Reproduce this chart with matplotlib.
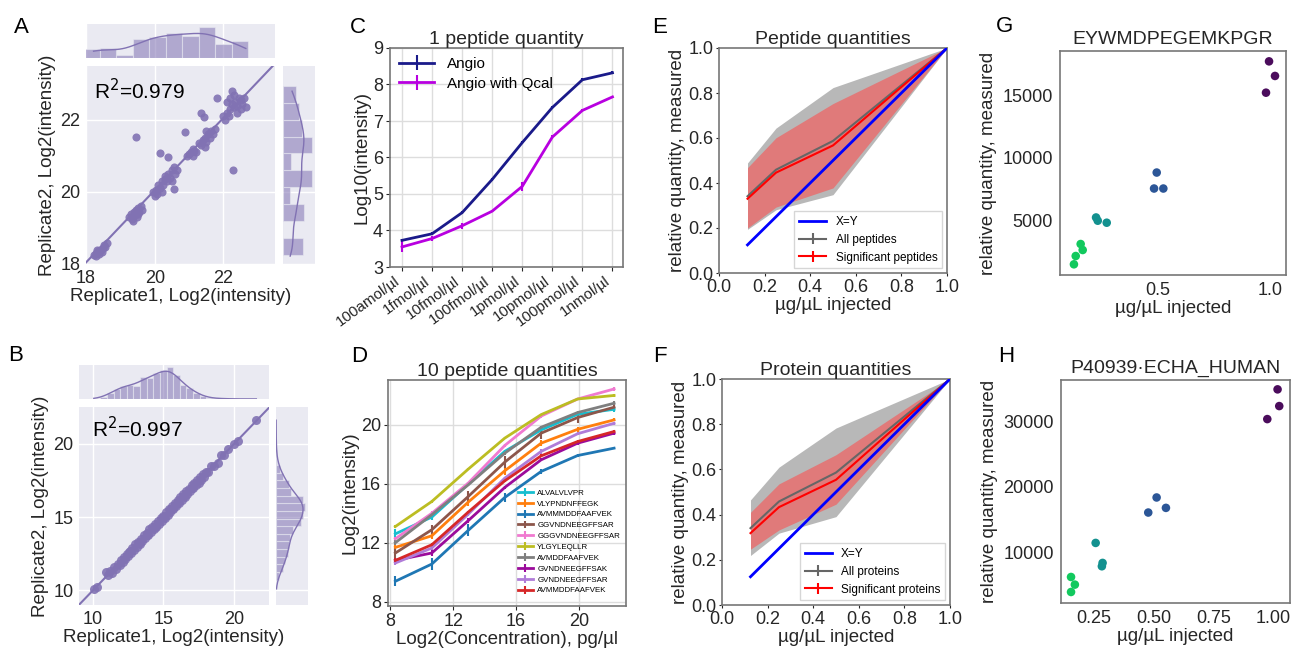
import numpy as np
import matplotlib
matplotlib.use("Agg")
from matplotlib import pyplot as plt

plt.rcParams['font.family'] = ['Liberation Sans', 'DejaVu Sans']

# ---- panel A: replicate scatter (peptides)
a_pairs = [(18.22, 18.25), (18.28, 18.30), (18.30, 18.22), (18.35, 18.35), (18.38, 18.28),
           (18.42, 18.40), (18.45, 18.38), (18.50, 18.45), (18.52, 18.52), (18.55, 18.48),
           (18.60, 18.58), (18.33, 18.40), (18.47, 18.32),
           (19.25, 19.30), (19.30, 19.40), (19.35, 19.25), (19.40, 19.45), (19.42, 19.35),
           (19.45, 19.50), (19.50, 19.40), (19.52, 19.55), (19.55, 19.45), (19.60, 19.60),
           (19.38, 19.20), (19.48, 19.30), (19.62, 19.50),
           (19.95, 20.00), (20.00, 19.90), (20.05, 20.05), (20.10, 20.20), (20.15, 20.10),
           (20.20, 20.30), (20.25, 20.20), (20.30, 20.35), (20.30, 20.45), (20.35, 20.30),
           (20.40, 20.50), (20.45, 20.40), (20.50, 20.60), (20.50, 20.30), (20.55, 20.70),
           (20.60, 20.50), (20.65, 20.60), (20.08, 19.95), (20.20, 20.00), (20.55, 20.07),
           (21.00, 21.05), (21.05, 21.10), (21.10, 21.00), (21.15, 21.15), (21.20, 21.10),
           (20.95, 21.00), (21.10, 21.20),
           (21.30, 21.35), (21.35, 21.30), (21.40, 21.45), (21.45, 21.50), (21.50, 21.40),
           (21.55, 21.60), (21.60, 21.50), (21.65, 21.70), (21.70, 21.60), (21.45, 21.25),
           (21.50, 21.70), (21.75, 21.75),
           (22.00, 22.10), (22.05, 22.00), (22.10, 22.20), (22.15, 22.10), (22.20, 22.30),
           (22.25, 22.45), (22.30, 22.35), (22.35, 22.50), (22.40, 22.40), (22.45, 22.60),
           (22.50, 22.55), (22.55, 22.45), (22.60, 22.60), (22.30, 22.70), (22.20, 22.60),
           (22.40, 22.20), (22.65, 22.35), (22.25, 22.80), (22.10, 22.50), (22.50, 22.30),
           (19.46, 21.53), (20.14, 21.07), (20.40, 20.97), (20.88, 21.67), (21.34, 22.20),
           (21.44, 22.09), (21.80, 22.60), (22.27, 20.60)]
a_top_edges = [17.92, 18.40, 18.88, 19.36, 19.84, 20.32, 20.80, 21.28, 21.76, 22.24, 22.72]
a_top_counts = [27, 30, 10, 57, 63, 75, 65, 93, 42, 52]
a_right_edges = [18.25, 18.72, 19.19, 19.66, 20.13, 20.60, 21.07, 21.54, 22.01, 22.48, 22.95]
a_right_counts = [60, 0, 65, 22, 89, 25, 87, 57, 47, 40]

# ---- panel B: replicate scatter (proteins)
b_pairs = [(10.05, 10.10), (10.30, 10.25), (10.90, 11.25), (11.05, 11.05), (11.20, 11.30),
           (11.35, 11.20), (11.50, 11.60), (11.60, 11.45), (11.75, 11.80), (11.90, 11.75),
           (12.00, 12.10), (12.10, 11.90), (12.20, 12.30), (12.30, 12.15), (12.40, 12.50),
           (12.50, 12.35), (12.60, 12.70), (12.70, 12.55), (12.80, 12.90), (12.90, 12.75),
           (13.00, 13.15), (13.10, 12.95), (13.20, 13.30), (13.30, 13.15), (13.40, 13.50),
           (13.50, 13.35), (13.60, 13.75), (13.70, 13.60), (13.80, 13.90), (13.90, 13.75),
           (14.00, 14.15), (14.10, 13.95), (14.20, 14.30), (14.30, 14.15), (14.40, 14.55),
           (14.50, 14.35), (14.60, 14.70), (14.70, 14.55), (14.80, 14.95), (14.90, 14.75),
           (15.00, 15.10), (15.10, 14.95), (15.20, 15.35), (15.30, 15.15), (15.40, 15.55),
           (15.50, 15.35), (15.60, 15.75), (15.70, 15.55), (15.80, 15.95), (15.90, 15.75),
           (16.00, 16.15), (16.10, 15.95), (16.20, 16.35), (16.30, 16.15), (16.40, 16.55),
           (16.50, 16.35), (16.60, 16.75), (16.70, 16.55), (16.80, 16.90), (16.90, 16.75),
           (17.00, 17.15), (17.10, 16.95), (17.20, 17.30), (17.30, 17.15), (17.40, 17.50),
           (17.50, 17.35), (17.60, 17.70), (17.70, 17.55), (17.80, 17.90), (17.90, 17.75),
           (18.00, 18.10), (18.20, 18.10), (18.40, 18.45), (18.60, 18.50), (18.90, 18.70),
           (19.10, 19.20), (19.30, 19.20), (19.60, 19.65), (20.00, 19.95), (20.30, 20.20),
           (21.60, 21.60), (12.55, 12.60), (13.25, 13.20), (13.85, 13.80), (14.45, 14.40),
           (15.05, 15.00), (15.45, 15.45), (15.65, 15.60), (15.85, 15.85), (16.05, 16.00),
           (16.45, 16.45), (17.05, 17.00)]
b_top_edges = [10.05, 10.52, 10.99, 11.46, 11.93, 12.40, 12.87, 13.34, 13.81, 14.28, 14.75,
               15.22, 15.69, 16.16, 16.63, 17.10, 17.57, 18.04, 18.51, 18.98, 19.45, 19.92,
               20.39, 20.86, 21.33]
b_top_counts = [1, 6, 18, 30, 40, 43, 40, 66, 63, 78, 88, 96, 73, 43, 33, 18, 8, 3,
                2, 1, 1, 0, 0, 1]
b_right_edges = [10.21, 10.73, 11.25, 11.77, 12.29, 12.81, 13.33, 13.85, 14.37, 14.89, 15.41,
                 15.93, 16.45, 16.97, 17.49, 18.01, 18.53, 19.05, 19.57, 20.09, 20.61, 21.13,
                 21.65]
b_right_counts = [1, 8, 22, 27, 37, 40, 42, 52, 74, 82, 87, 82, 45, 40, 22, 12, 4, 2, 1, 1, 0, 1]

# ---- panel C: one peptide
conc_labels = ['100amol/µl', '1fmol/µl', '10fmol/µl', '100fmol/µl', '1pmol/µl',
               '10pmol/µl', '100pmol/µl', '1nmol/µl']
angio = [3.73, 3.91, 4.49, 5.40, 6.41, 7.37, 8.13, 8.32]
angio_err = [0.04, 0.04, 0.04, 0.04, 0.04, 0.04, 0.04, 0.04]
qcal = [3.55, 3.78, 4.13, 4.53, 5.21, 6.56, 7.29, 7.66]
qcal_err = [0.15, 0.07, 0.08, 0.03, 0.12, 0.06, 0.04, 0.03]

# ---- panel D: ten peptides
log2_conc = [8.32, 10.64, 12.96, 15.28, 17.60, 19.92, 22.24]
peptides = ['ALVALVLVPR', 'VLYPNDNFFEGK', 'AVMMMDDFAAFVEK', 'GGVNDNEEGFFSAR', 'GGGVNDNEEGFFSAR',
            'YLGYLEQLLR', 'AVMDDFAAFVEK', 'GVNDNEEGFFSAK', 'GVNDNEEGFFSAR', 'AVMMDDFAAFVEK']
pep_colors = ['#17becf', '#ff7f0e', '#1f77b4', '#8c564b', '#f07ad0',
              '#bcbd22', '#7f7f7f', '#9b0b9b', '#b07cd8', '#d62728']
pep_vals = [[12.60, 13.74, 15.98, 18.20, 19.66, 20.72, 21.06],
            [11.68, 12.47, 14.76, 16.88, 18.76, 19.70, 20.34],
            [9.38, 10.55, 12.84, 15.07, 16.84, 17.92, 18.42],
            [11.30, 12.88, 15.14, 17.47, 19.44, 20.50, 21.20],
            [12.27, 14.00, 16.05, 18.60, 20.60, 21.76, 22.44],
            [13.10, 14.80, 17.00, 19.10, 20.70, 21.76, 22.00],
            [12.00, 13.90, 15.93, 18.08, 19.84, 20.84, 21.47],
            [10.80, 11.30, 13.50, 15.75, 17.63, 18.76, 19.44],
            [10.62, 11.64, 13.94, 16.38, 18.20, 19.40, 20.11],
            [10.80, 11.86, 14.08, 16.20, 17.90, 18.87, 19.55]]
pep_errs = [[0.30, 0.20, 0.15, 0.10, 0.10, 0.08, 0.15],
            [0.15, 0.20, 0.30, 0.25, 0.20, 0.15, 0.10],
            [0.35, 0.40, 0.40, 0.30, 0.15, 0.10, 0.05],
            [0.35, 0.30, 0.35, 0.40, 0.40, 0.35, 0.20],
            [0.15, 0.15, 0.10, 0.10, 0.10, 0.05, 0.15],
            [0.10, 0.10, 0.05, 0.05, 0.05, 0.05, 0.10],
            [0.15, 0.20, 0.10, 0.10, 0.10, 0.10, 0.15],
            [0.10, 0.20, 0.15, 0.10, 0.10, 0.10, 0.10],
            [0.15, 0.15, 0.10, 0.10, 0.15, 0.10, 0.10],
            [0.15, 0.10, 0.10, 0.10, 0.10, 0.10, 0.10]]

# ---- panels E/F: relative quantities
injected = [0.125, 0.25, 0.5, 1.0]
pep_all = [0.341, 0.459, 0.587, 1.0]
pep_all_lo = [0.194, 0.281, 0.348, 1.0]
pep_all_hi = [0.489, 0.644, 0.824, 1.0]
pep_sig = [0.330, 0.446, 0.567, 1.0]
pep_sig_lo = [0.200, 0.293, 0.378, 1.0]
pep_sig_hi = [0.468, 0.601, 0.753, 1.0]
prot_all = [0.340, 0.458, 0.586, 1.0]
prot_all_lo = [0.219, 0.318, 0.391, 1.0]
prot_all_hi = [0.465, 0.610, 0.783, 1.0]
prot_sig = [0.318, 0.433, 0.554, 1.0]
prot_sig_lo = [0.247, 0.332, 0.446, 1.0]
prot_sig_hi = [0.410, 0.536, 0.665, 1.0]

# ---- panels G/H: single peptide / protein
g_x = [0.127, 0.135, 0.166, 0.157, 0.2255, 0.233, 0.273, 0.4955, 0.4837, 0.525, 0.9955, 1.022, 0.982]
g_y = [1457, 2122, 2603, 3083, 5210, 4950, 4790, 8810, 7530, 7530, 17720, 16550, 15210]
g_dose = [0.125, 0.125, 0.125, 0.125, 0.25, 0.25, 0.25, 0.5, 0.5, 0.5, 1.0, 1.0, 1.0]
h_x = [0.154, 0.170, 0.154, 0.257, 0.286, 0.283, 0.512, 0.477, 0.551, 1.018, 1.025, 0.975]
h_y = [6290, 5130, 4010, 11470, 8430, 7920, 18380, 16090, 16800, 34820, 32280, 30300]
h_dose = [0.125, 0.125, 0.125, 0.25, 0.25, 0.25, 0.5, 0.5, 0.5, 1.0, 1.0, 1.0]
dose_colors = {0.125: '#12c95e', 0.25: '#13918f', 0.5: '#2c5697', 1.0: '#4b0c5c'}

W, H = 1291, 648
fig = plt.figure(figsize=(W / 100, H / 100), dpi=100)


def rect(l, t, r, b):
    return [l / W, 1 - b / H, (r - l) / W, (b - t) / H]


PURPLE = '#8172B3'
BG = '#EAEAF2'
TXT = '#262626'
LAB = 13.5   # axis label size
TCK = 13     # tick label size


def dark_style(ax):
    ax.set_facecolor(BG)
    ax.grid(color='white', lw=1)
    ax.set_axisbelow(True)
    for s in ax.spines.values():
        s.set_visible(False)
    ax.tick_params(length=0, labelsize=TCK, colors=TXT, pad=4)


def smooth(edges, counts, grid, bw):
    edges = np.array(edges)
    centers = (edges[:-1] + edges[1:]) / 2
    width = edges[1] - edges[0]
    dens = np.zeros_like(grid)
    for c, m in zip(counts, centers):
        dens += c * np.exp(-0.5 * ((grid - m) / bw) ** 2) / (bw * np.sqrt(2 * np.pi))
    return dens * width


def joint(main_r, top_r, right_r, pairs, lim, ticks, top_e, top_c, right_e, right_c,
          top_max, right_max, r2, r2_pos, bw, msize):
    x, y = np.array(pairs).T
    ax = fig.add_axes(rect(*main_r))
    dark_style(ax)
    ax.scatter(x, y, s=msize, color=PURPLE, lw=0, alpha=0.9, zorder=3)
    k, b = np.polyfit(x, y, 1)
    xx = np.array(lim)
    ax.plot(xx, k * xx + b, color=PURPLE, lw=1.5, zorder=4)
    ax.set_xlim(lim)
    ax.set_ylim(lim)
    ax.set_xticks(ticks)
    ax.set_yticks(ticks)
    ax.set_xlabel('Replicate1, Log2(intensity)', fontsize=LAB, color=TXT, labelpad=1)
    ax.set_ylabel('Replicate2, Log2(intensity)', fontsize=LAB, color=TXT, labelpad=3)
    ax.text(r2_pos[0], r2_pos[1], r2, transform=ax.transAxes, fontsize=15, color='black')

    axt = fig.add_axes(rect(*top_r))
    dark_style(axt)
    te = np.array(top_e)
    axt.bar(te[:-1], top_c, width=np.diff(te), align='edge', color=PURPLE, alpha=0.55,
            edgecolor=BG, lw=0.8)
    gx = np.linspace(min(x), max(x), 200)
    axt.plot(gx, smooth(top_e, top_c, gx, bw), color=PURPLE, lw=1)
    axt.set_xlim(lim)
    axt.set_ylim(0, top_max)
    axt.set_xticks(ticks)
    axt.set_yticks([])
    axt.tick_params(labelbottom=False)

    axr = fig.add_axes(rect(*right_r))
    dark_style(axr)
    re_ = np.array(right_e)
    axr.barh(re_[:-1], right_c, height=np.diff(re_), align='edge', color=PURPLE, alpha=0.55,
             edgecolor=BG, lw=0.8)
    gy = np.linspace(min(y), max(y), 200)
    axr.plot(smooth(right_e, right_c, gy, bw), gy, color=PURPLE, lw=1)
    axr.set_ylim(lim)
    axr.set_xlim(0, right_max)
    axr.set_yticks(ticks)
    axr.set_xticks([])
    axr.tick_params(labelleft=False)


joint((86, 66, 275, 264), (86, 24, 275, 58), (283, 66, 315, 264), a_pairs, (18, 23.5),
      [18, 20, 22], a_top_edges, a_top_counts, a_right_edges, a_right_counts, 102, 97,
      'R$^2$=0.979', (0.04, 0.83), 0.45, 34)
joint((79, 407, 269, 605), (79, 365, 269, 399), (276, 407, 308, 605), b_pairs, (9, 22.5),
      [10, 15, 20], b_top_edges, b_top_counts, b_right_edges, b_right_counts, 103, 96,
      'R$^2$=0.997', (0.07, 0.85), 0.55, 42)


def light_style(ax, grid=True):
    ax.set_facecolor('white')
    for s in ax.spines.values():
        s.set_color('#777777')
        s.set_linewidth(1.2)
    if grid:
        ax.grid(color='#dddddd', lw=1)
        ax.set_axisbelow(True)
    ax.tick_params(labelsize=TCK, colors=TXT, length=3, width=0.8, pad=2)


# ---- C
ax = fig.add_axes(rect(390, 48, 623, 267))
light_style(ax)
xi = np.arange(len(conc_labels))
ax.errorbar(xi, angio, yerr=angio_err, color='#1a1a8a', lw=2, elinewidth=1.5, label='Angio')
ax.errorbar(xi, qcal, yerr=qcal_err, color='#b800e0', lw=2, elinewidth=1.5,
            label='Angio with Qcal')
ax.set_xlim(-0.4, 7.35)
ax.set_ylim(3, 9)
ax.set_yticks(range(3, 10))
ax.set_xticks(xi)
ax.set_xticklabels(conc_labels, rotation=36, ha='right', fontsize=11)
ax.set_ylabel('Log10(intensity)', fontsize=LAB, color=TXT, labelpad=2)
ax.set_title('1 peptide quantity', fontsize=14, color=TXT, pad=3)
ax.legend(loc='upper left', frameon=False, fontsize=11, handlelength=2.3,
          borderaxespad=0.2, labelspacing=0.35)

# ---- D
ax = fig.add_axes(rect(388, 380, 626, 606))
light_style(ax)
for name, col, vals, errs in zip(peptides, pep_colors, pep_vals, pep_errs):
    ax.errorbar(log2_conc, vals, yerr=errs, color=col, lw=2, elinewidth=1.5, label=name)
ax.set_xlim(7.85, 23.0)
ax.set_ylim(7.7, 23.05)
ax.set_xticks([8, 12, 16, 20])
ax.set_yticks([8, 12, 16, 20])
ax.set_xlabel('Log2(Concentration), pg/µl', fontsize=LAB, color=TXT, labelpad=1)
ax.set_ylabel('Log2(intensity)', fontsize=LAB, color=TXT, labelpad=2)
ax.set_title('10 peptide quantities', fontsize=14, color=TXT, pad=3)
ax.legend(loc='lower right', bbox_to_anchor=(0.995, 0.03), frameon=False, fontsize=5.7,
          handlelength=1.8, handletextpad=0.6, labelspacing=0.42, borderaxespad=0.2)


# ---- E / F
def rel_panel(r, title, what, all_m, all_lo, all_hi, sig_m, sig_lo, sig_hi):
    ax = fig.add_axes(rect(*r))
    light_style(ax, grid=False)
    ax.tick_params(length=2)
    ax.fill_between(injected, all_lo, all_hi, color='#b8b8b8', lw=0)
    ax.fill_between(injected, sig_lo, sig_hi, color='#e07a7a', lw=0)
    ax.plot(injected, injected, color='blue', lw=2, label='X=Y', zorder=5)
    ax.errorbar(injected, all_m, yerr=np.zeros(len(injected)), color='#666666', lw=1.5,
                label='All ' + what)
    ax.errorbar(injected, sig_m, yerr=np.zeros(len(injected)), color='red', lw=1.5,
                label='Significant ' + what)
    ax.set_xlim(0, 1)
    ax.set_ylim(0, 1)
    ax.set_xticks(np.linspace(0, 1, 6))
    ax.set_yticks(np.linspace(0, 1, 6))
    ax.set_xlabel('µg/µL injected', fontsize=LAB, color=TXT, labelpad=1)
    ax.set_ylabel('relative quantity, measured', fontsize=LAB, color=TXT, labelpad=2)
    ax.set_title(title, fontsize=14, color=TXT, pad=3)
    leg = ax.legend(loc='lower right', fontsize=8.5, frameon=True, fancybox=False,
                    borderaxespad=0.4, handlelength=2.3)
    leg.get_frame().set_edgecolor('#cccccc')


rel_panel((719, 48, 947, 273), 'Peptide quantities', 'peptides', pep_all, pep_all_lo,
          pep_all_hi, pep_sig, pep_sig_lo, pep_sig_hi)
rel_panel((722, 379, 950, 605), 'Protein quantities', 'proteins', prot_all, prot_all_lo,
          prot_all_hi, prot_sig, prot_sig_lo, prot_sig_hi)


# ---- G / H
def dose_panel(r, title, xs, ys, doses, xlim, ylim, xt, xtl, yt):
    ax = fig.add_axes(rect(*r))
    light_style(ax, grid=False)
    ax.tick_params(length=0, pad=5)
    ax.scatter(xs, ys, c=[dose_colors[d] for d in doses], s=38, lw=0)
    ax.set_xlim(xlim)
    ax.set_ylim(ylim)
    ax.set_xticks(xt)
    ax.set_xticklabels(xtl)
    ax.set_yticks(yt)
    ax.set_xlabel('µg/µL injected', fontsize=LAB, color=TXT, labelpad=1)
    ax.set_ylabel('relative quantity, measured', fontsize=LAB, color=TXT, labelpad=4)
    ax.set_title(title, fontsize=14, color=TXT, pad=5)


dose_panel((1060, 51, 1286, 275), 'EYWMDPEGEMKPGR', g_x, g_y, g_dose, (0.065, 1.071),
           (600, 18550), [0.5, 1.0], ['0.5', '1.0'], [5000, 10000, 15000])
dose_panel((1061, 380, 1290, 603), 'P40939·ECHA_HUMAN', h_x, h_y, h_dose, (0.112, 1.07),
           (2335, 36244), [0.25, 0.5, 0.75, 1.0], ['0.25', '0.50', '0.75', '1.00'],
           [10000, 20000, 30000])

# panel letters
for lab, px, py in [('A', 14, 33), ('B', 8, 361), ('C', 350, 33), ('D', 351, 362),
                    ('E', 652, 33), ('F', 653, 362), ('G', 996, 32), ('H', 998, 362)]:
    fig.text(px / W, 1 - py / H, lab, fontsize=16, color='black', va='baseline')

fig.savefig('out.png', dpi=100)
